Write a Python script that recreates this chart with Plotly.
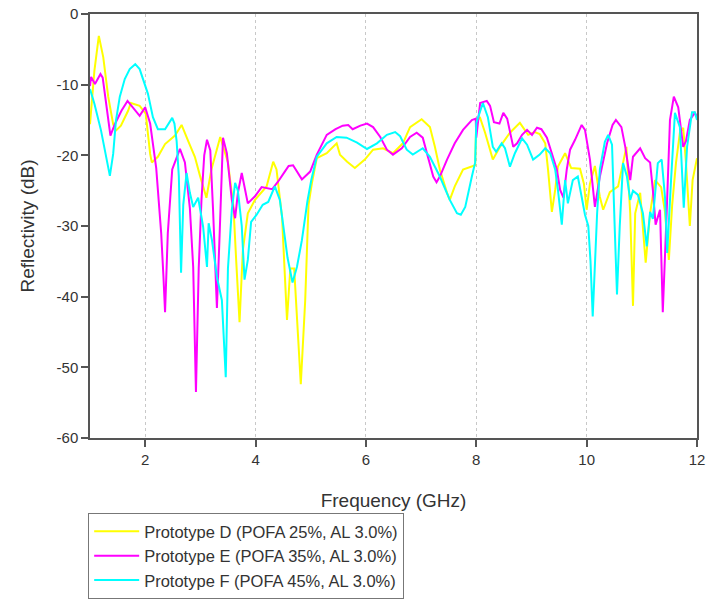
import plotly.graph_objects as go

# ---------------- data ----------------
freq_D = [1.00, 1.08, 1.16, 1.24, 1.33, 1.42, 1.47, 1.56, 1.69, 1.74, 1.90, 2.01, 2.09, 2.12, 2.23, 2.36,
          2.54, 2.66, 2.78, 2.90, 2.99, 3.11, 3.20, 3.36, 3.50, 3.60, 3.65, 3.71, 3.77, 3.86, 3.99, 4.11,
          4.20, 4.32, 4.38, 4.48, 4.57, 4.63, 4.70, 4.82, 4.90, 4.96, 5.02, 5.11, 5.29, 5.47, 5.53, 5.66,
          5.80, 5.98, 6.13, 6.31, 6.49, 6.67, 6.80, 7.01, 7.16, 7.25, 7.34, 7.47, 7.52, 7.61, 7.76, 7.98,
          8.00, 8.07, 8.16, 8.30, 8.43, 8.61, 8.79, 8.94, 9.06, 9.15, 9.25, 9.30, 9.37, 9.43, 9.48, 9.61,
          9.72, 9.88, 9.95, 10.00, 10.06, 10.15, 10.24, 10.30, 10.42, 10.57, 10.64, 10.72, 10.79, 10.84,
          10.88, 10.97, 11.07, 11.15, 11.24, 11.35, 11.42, 11.49, 11.55, 11.62, 11.69, 11.75, 11.80, 11.87,
          11.92, 12.00]
refl_D = [-15.6, -8.0, -3.1, -6.1, -11.7, -15.6, -16.5, -15.8, -13.7, -12.6, -13.0, -14.1, -19.8, -21.0, -20.2, -18.4,
          -17.2, -15.7, -18.0, -20.2, -22.8, -26.0, -22.0, -17.4, -21.0, -27.3, -35.0, -43.6, -33.4, -28.2, -26.3, -25.2,
          -24.4, -20.9, -22.0, -28.7, -43.3, -36.0, -36.0, -52.4, -40.5, -27.0, -24.0, -20.4, -19.7, -18.3, -19.9, -20.9,
          -21.8, -20.6, -19.2, -19.0, -19.7, -18.3, -16.0, -14.9, -16.0, -18.8, -22.0, -25.3, -26.3, -24.4, -22.0, -21.4,
          -15.0, -14.7, -16.8, -20.6, -18.8, -16.8, -15.4, -17.1, -16.7, -17.0, -18.3, -22.0, -28.0, -24.9, -21.6, -19.7,
          -21.8, -21.9, -24.0, -27.7, -24.0, -21.5, -25.9, -27.7, -25.2, -24.4, -22.0, -18.8, -28.2, -41.3,
          -28.2, -25.3, -35.2, -28.2, -23.5, -24.5, -28.0, -34.8, -27.0, -21.0, -16.8, -16.1, -21.0, -30.0,
          -23.5, -20.4]

freq_E = [1.00, 1.02, 1.09, 1.19, 1.23, 1.29, 1.37, 1.45, 1.57, 1.68, 1.74, 1.90, 2.00, 2.09, 2.20, 2.29,
          2.33, 2.36, 2.41, 2.49, 2.63, 2.72, 2.81, 2.87, 2.92, 2.97, 3.02, 3.07, 3.12, 3.18, 3.23, 3.30,
          3.35, 3.41, 3.48, 3.57, 3.63, 3.68, 3.75, 3.86, 3.99, 4.11, 4.30, 4.41, 4.53, 4.60, 4.68, 4.84,
          4.99, 5.11, 5.29, 5.45, 5.58, 5.68, 5.76, 5.90, 6.02, 6.13, 6.26, 6.38, 6.49, 6.65, 6.80, 6.92,
          7.03, 7.13, 7.22, 7.28, 7.34, 7.47, 7.61, 7.76, 7.92, 7.99, 8.00, 8.07, 8.19, 8.25, 8.32, 8.42,
          8.49, 8.56, 8.61, 8.67, 8.74, 8.83, 8.92, 9.01, 9.10, 9.18, 9.28, 9.37, 9.46, 9.52, 9.58, 9.64,
          9.70, 9.79, 9.91, 9.97, 10.06, 10.15, 10.24, 10.37, 10.47, 10.53, 10.63, 10.70, 10.79, 10.84,
          10.97, 11.06, 11.15, 11.20, 11.25, 11.33, 11.38, 11.45, 11.51, 11.58, 11.66, 11.75, 11.80, 11.87,
          11.96, 12.00]
refl_E = [-10.2, -8.9, -9.9, -8.5, -9.0, -12.3, -17.2, -15.6, -13.7, -12.3, -12.9, -14.4, -13.2, -15.5, -21.8, -31.0,
          -37.0, -42.2, -31.0, -22.0, -19.1, -21.0, -27.5, -35.8, -53.5, -36.0, -26.3, -20.0, -17.8, -19.3, -27.7, -41.6,
          -31.0, -17.5, -19.7, -26.3, -28.9, -25.3, -22.5, -26.8, -25.8, -24.5, -24.8, -23.7, -22.3, -21.5, -21.4, -23.4,
          -22.3, -19.9, -17.1, -16.3, -15.8, -15.7, -16.3, -15.8, -15.5, -16.0, -17.4, -19.2, -19.9, -19.0, -17.4, -16.8,
          -17.5, -20.2, -23.0, -23.8, -23.0, -20.6, -18.3, -16.4, -15.0, -14.8, -17.5, -12.6, -12.3, -13.0, -15.3, -15.5,
          -14.0, -14.8, -16.8, -18.8, -18.3, -17.1, -16.4, -17.1, -16.1, -16.3, -17.5, -19.7, -22.0, -24.9, -26.0, -22.0,
          -19.2, -17.8, -15.7, -16.4, -20.6, -27.3, -23.0, -18.3, -15.7, -15.0, -16.0, -18.8, -23.5, -20.2,
          -19.0, -20.4, -21.0, -24.9, -29.8, -27.7, -42.2, -28.2, -15.0, -11.7, -13.2, -18.8, -18.0, -15.0,
          -14.0, -14.5]

freq_F = [1.00, 1.08, 1.20, 1.29, 1.36, 1.42, 1.47, 1.54, 1.63, 1.72, 1.82, 1.90, 1.99, 2.05, 2.14, 2.23,
          2.36, 2.45, 2.49, 2.53, 2.57, 2.61, 2.65, 2.69, 2.75, 2.81, 2.87, 2.96, 3.05, 3.12, 3.15, 3.21,
          3.30, 3.39, 3.46, 3.50, 3.57, 3.63, 3.68, 3.75, 3.80, 3.86, 3.92, 4.02, 4.13, 4.23, 4.35, 4.44,
          4.50, 4.58, 4.67, 4.75, 4.84, 4.94, 5.01, 5.11, 5.29, 5.47, 5.65, 5.84, 6.02, 6.20, 6.38, 6.53,
          6.62, 6.74, 6.85, 7.03, 7.16, 7.34, 7.52, 7.65, 7.72, 7.80, 7.92, 7.98, 8.00, 8.07, 8.12, 8.21,
          8.30, 8.36, 8.46, 8.52, 8.61, 8.70, 8.83, 8.92, 9.03, 9.15, 9.25, 9.34, 9.43, 9.48, 9.55, 9.61,
          9.66, 9.75, 9.84, 9.91, 9.97, 10.03, 10.07, 10.11, 10.19, 10.24, 10.33, 10.39, 10.46, 10.51,
          10.55, 10.60, 10.66, 10.73, 10.79, 10.84, 10.93, 11.02, 11.09, 11.15, 11.20, 11.29, 11.36, 11.42,
          11.46, 11.53, 11.60, 11.69, 11.76, 11.82, 11.91, 11.96, 12.00]
refl_F = [-10.6, -12.7, -16.5, -20.2, -22.9, -19.8, -15.1, -11.7, -9.2, -7.8, -7.1, -7.8, -9.9, -11.3, -14.6, -16.3,
          -16.3, -15.1, -14.7, -15.5, -18.0, -23.0, -36.6, -27.0, -22.5, -25.3, -27.3, -26.0, -30.1, -35.8, -29.6, -32.0,
          -37.2, -40.5, -51.4, -36.0, -27.7, -23.9, -25.0, -30.0, -37.6, -34.8, -29.4, -28.4, -27.0, -26.6, -24.4, -26.3,
          -30.0, -34.5, -38.0, -35.8, -32.0, -26.5, -23.5, -20.2, -18.3, -17.4, -17.5, -18.2, -19.1, -18.3, -17.1, -16.7,
          -17.3, -19.2, -19.9, -19.0, -20.2, -23.0, -26.3, -28.2, -28.4, -27.3, -23.0, -21.0, -15.4, -13.6, -12.6, -14.6,
          -18.8, -19.5, -18.3, -19.0, -21.6, -19.7, -17.6, -18.5, -20.6, -19.9, -19.0, -19.7, -22.0, -24.9, -29.8, -23.5,
          -26.8, -23.5, -23.0, -25.9, -28.4, -30.0, -35.0, -42.8, -28.2, -22.0, -18.1, -17.1, -18.5, -30.5,
          -39.7, -30.0, -21.1, -23.0, -26.3, -25.0, -25.6, -28.2, -32.9, -28.0, -29.0, -21.1, -20.6, -25.9,
          -33.8, -23.5, -14.0, -16.0, -27.4, -18.8, -13.9, -13.9, -15.0]

series_names = ["Prototype D (POFA 25%, AL 3.0%)",
                "Prototype E (POFA 35%, AL 3.0%)",
                "Prototype F (POFA 45%, AL 3.0%)"]
series_colors = ["#FFFF00", "#FF00FF", "#00FFFF"]

x_tick_vals = [2, 4, 6, 8, 10, 12]
y_tick_vals = [0, -10, -20, -30, -40, -50, -60]
y_tick_text = ["0", "-10", "-20", "-30", "-40", "-50", "-60"]

# ---------------- figure ----------------
fig = go.Figure()
for i, (xs, ys) in enumerate([(freq_D, refl_D), (freq_E, refl_E), (freq_F, refl_F)]):
    fig.add_trace(go.Scatter(
        x=xs, y=ys, mode="lines", name=series_names[i],
        line=dict(color=series_colors[i], width=2),
    ))

axis_color = "#555555"
font_fam = "Liberation Sans, Arial, sans-serif"
txt_color = "#333333"

fig.update_layout(
    width=706, height=603,
    margin=dict(l=90, r=9, t=14, b=165),
    paper_bgcolor="white", plot_bgcolor="white",
    font=dict(family=font_fam, size=15, color=txt_color),
    showlegend=True,
    legend=dict(
        xref="paper", yref="container",
        x=-0.003, y=0.1493, xanchor="left", yanchor="top",
        bordercolor="#777777", borderwidth=1,
        font=dict(family=font_fam, size=16.5, color=txt_color),
        itemwidth=45,
    ),
    xaxis=dict(
        range=[1, 12], tickvals=x_tick_vals, automargin=False,
        showline=True, linecolor=axis_color, linewidth=1.5, mirror=True,
        ticks="outside", ticklen=7, tickcolor=axis_color, tickwidth=1.5,
        showgrid=True, gridcolor="#c8c8c8", griddash="dot", gridwidth=1,
        zeroline=False,
        tickfont=dict(size=15, color=txt_color),
        title=dict(text="Frequency (GHz)", font=dict(size=19, color=txt_color), standoff=27),
    ),
    yaxis=dict(
        range=[-60, 0], tickvals=y_tick_vals, ticktext=y_tick_text, automargin=False,
        showline=True, linecolor=axis_color, linewidth=1.5, mirror=True,
        ticks="outside", ticklen=7, tickcolor=axis_color, tickwidth=1.5,
        showgrid=False, zeroline=False,
        tickfont=dict(size=15, color=txt_color),
        title=dict(text="Reflectivity (dB)", font=dict(size=19, color=txt_color), standoff=17),
    ),
)

fig.write_html("out.html")
